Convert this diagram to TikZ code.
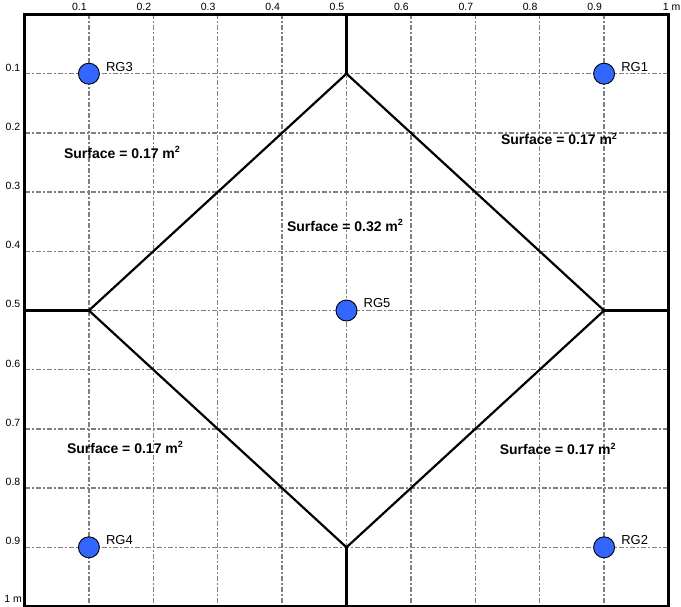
\documentclass[tikz,border=0pt]{standalone}
\usepackage{fontspec}
\setmainfont{Liberation Sans}
\definecolor{rgblue}{HTML}{3366FF}
\definecolor{gridgray}{RGB}{128,128,128}
\tikzset{
  gridline/.style={gridgray,line width=1.3pt,dash pattern=on 5pt off 2pt on 2pt off 2pt},
  border/.style={black,line width=3.2pt},
  divline/.style={black,line width=2.2pt,line join=miter},
  axislabel/.style={inner sep=0pt,font=\fontsize{10.5}{12}\selectfont},
  gauge/.style={circle,draw=black,line width=0.9pt,fill=rgblue,minimum size=21pt,inner sep=0pt},
  gaugelabel/.style={inner sep=0pt,anchor=base west,font=\fontsize{13}{15}\selectfont},
  surflabel/.style={inner sep=0pt,anchor=base,font=\bfseries\fontsize{14}{16}\selectfont}
}
\newcommand{\sqm}{m\raisebox{0.42em}{\fontsize{9}{9}\selectfont 2}}
\begin{document}
\begin{tikzpicture}
\useasboundingbox (0,0) rectangle (681pt,-607pt);
\fill[white] (0,0) rectangle (681pt,-607pt);
\begin{scope}[shift={(24.5pt,-14.5pt)},x=644pt,y=-592pt]
  % grid
  \foreach \i in {1,...,9} {
    \draw[gridline] (\i/10,0) -- (\i/10,1);
    \draw[gridline] (0,\i/10) -- (1,\i/10);
  }
  % key points
  \coordinate (T) at (0.5,0.1);
  \coordinate (R) at (0.9,0.5);
  \coordinate (B) at (0.5,0.9);
  \coordinate (L) at (0.1,0.5);
  \coordinate (Ttop) at (0.5,0);
  \coordinate (Rend) at (1,0.5);
  \coordinate (Bbot) at (0.5,1);
  \coordinate (Lend) at (0,0.5);
  % dividing lines
  \draw[divline] (T) -- (R) -- (B) -- (L) -- cycle;
  \draw[divline] (T) -- (Ttop);
  \draw[divline] (R) -- (Rend);
  \draw[divline] (B) -- (Bbot);
  \draw[divline] (L) -- (Lend);
  % border
  \draw[border] (0,0) rectangle (1,1);
  % axis labels
  \foreach \i/\t in {1/0.1,2/0.2,3/0.3,4/0.4,5/0.5,6/0.6,7/0.7,8/0.8,9/0.9} {
    \node[axislabel,anchor=base east,xshift=-2pt,yshift=4pt] (tx\i) at (\i/10,0) {\t};
    \node[axislabel,anchor=base east,xshift=-4pt,yshift=2.5pt] (ly\i) at (0,\i/10) {\t};
  }
  \node[axislabel,anchor=base east,xshift=12pt,yshift=4pt] (tx10) at (1,0) {1 m};
  \node[axislabel,anchor=base east,xshift=-2.5pt,yshift=4pt] (ly10) at (0,1) {1 m};
  % rain gauges
  \node[gauge] (rg1) at (0.9,0.1) {};
  \node[gauge] (rg2) at (0.9,0.9) {};
  \node[gauge] (rg3) at (0.1,0.1) {};
  \node[gauge] (rg4) at (0.1,0.9) {};
  \node[gauge] (rg5) at (0.5,0.5) {};
  \node[gaugelabel,xshift=17pt,yshift=2.5pt] (l1) at (rg1.center) {RG1};
  \node[gaugelabel,xshift=17pt,yshift=2.5pt] (l2) at (rg2.center) {RG2};
  \node[gaugelabel,xshift=17pt,yshift=2.5pt] (l3) at (rg3.center) {RG3};
  \node[gaugelabel,xshift=17pt,yshift=2.5pt] (l4) at (rg4.center) {RG4};
  \node[gaugelabel,xshift=17pt,yshift=2.5pt] (l5) at (rg5.center) {RG5};
  % surfaces
  \node[surflabel] (s1) at (0.1514,0.2424) {Surface = 0.17 \sqm};
  \node[surflabel] (s2) at (0.830,0.2204) {Surface = 0.17 \sqm};
  \node[surflabel] (s3) at (0.4977,0.367) {Surface = 0.32 \sqm};
  \node[surflabel] (s4) at (0.156,0.741) {Surface = 0.17 \sqm};
  \node[surflabel] (s5) at (0.828,0.744) {Surface = 0.17 \sqm};
\end{scope}
\end{tikzpicture}
\end{document}
